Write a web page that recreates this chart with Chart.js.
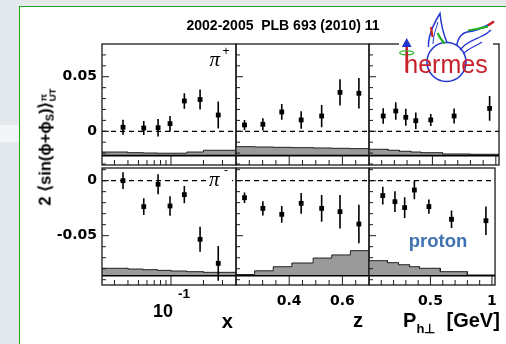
<!DOCTYPE html>
<html>
<head>
<meta charset="utf-8">
<script src="https://cdn.jsdelivr.net/npm/chart.js@4.4.1/dist/chart.umd.min.js"></script>
<style>
  html, body { margin: 0; padding: 0; }
  body { width: 506px; height: 344px; position: relative; overflow: hidden;
         background: #e4e9ee; font-family: "Liberation Sans", Arial, sans-serif; }
  #stripe { position: absolute; left: 0; top: 125px; width: 19px; height: 17px; background: #f3f5f8; }
  #box { position: absolute; left: 19px; top: 6px; width: 600px; height: 500px;
         background: #fff; border: 1.5px solid #22a022; }
  canvas { position: absolute; left: 0; top: 0; }
  .t { position: absolute; line-height: 1; white-space: pre; font-weight: bold; color: #000; }
  .pi { position: absolute; line-height: 1; font-family: "Liberation Serif", serif; font-style: italic; font-size: 21px; }
  .sup { position: absolute; line-height: 1; font-size: 12px; }
  #ytitle { font-size: 16.5px; transform: translate(-50%, -50%) rotate(-90deg); }
  #ytitle .sub { font-size: 0.65em; position: relative; top: 0.3em; }
  #ytitle .ss { display: inline-block; vertical-align: -0.55em; font-size: 0.6em; line-height: 0.95; }
  #ytitle .ss span { display: block; }
</style>
</head>
<body>
<div id="stripe"></div>
<div id="box"></div>
<canvas id="c1" width="506" height="344"></canvas>
<canvas id="c2" width="506" height="344"></canvas>
<canvas id="c3" width="506" height="344"></canvas>
<canvas id="c4" width="506" height="344"></canvas>
<canvas id="c5" width="506" height="344"></canvas>
<canvas id="c6" width="506" height="344"></canvas>

<div class="t" style="left:186.5px;top:18.2px;font-size:14px">2002-2005  PLB 693 (2010) 11</div>
<div class="t" id="ytitle" style="left:47px;top:147px">2 ⟨sin(ϕ+ϕ<span class="sub">S</span>)⟩<span class="ss"><span>π</span><span>UT</span></span></div>

<div class="pi" style="left:209.5px;top:49.2px">π</div>
<div class="sup" style="left:222.5px;top:45px">+</div>
<div class="pi" style="left:207px;top:169px;background:#fff;padding-right:12px;padding-left:2px">π</div>
<div class="sup" style="left:224px;top:163.5px">-</div>

<div class="t" style="left:408.7px;top:231.8px;font-size:18.5px;color:#3f72b0">proton</div>

<div class="t" style="left:221.7px;top:311.4px;font-size:20px">x</div>
<div class="t" style="left:353px;top:309.8px;font-size:20px">z</div>
<div class="t" style="left:403px;top:309.8px;font-size:20px">P</div>
<div class="t" style="left:416.5px;top:322px;font-size:13px">h⊥</div>
<div class="t" style="left:446.5px;top:309.8px;font-size:20px">[GeV]</div>

<svg width="506" height="344" style="position:absolute;left:0;top:0">
  <rect x="399" y="36" width="94" height="12" fill="#fff"/>
  <circle cx="446.5" cy="62" r="19.5" fill="none" stroke="#2438d0" stroke-width="1.6"/>
  <path d="M428.5,47 C428,38 431,28 440,13.5 C441,24 443,33 447,42.5" fill="none" stroke="#2438d0" stroke-width="1.5"/>
  <path d="M433,44 C433,36 436,29 438,22" fill="none" stroke="#2438d0" stroke-width="1"/>
  <path d="M431,27 L432.5,37" stroke="#d02020" stroke-width="2"/>
  <path d="M437.5,33 C440,38 442,41 445,43.5" fill="none" stroke="#22b022" stroke-width="2.2"/>
  <path d="M456.5,46 C458,38 462,33 467,32 C476,31 485,27 494,21.5" fill="none" stroke="#2438d0" stroke-width="1.5"/>
  <path d="M460,50 C466,42 474,40 480,37 C485,35 488,33 491,30" fill="none" stroke="#2438d0" stroke-width="1.3"/>
  <path d="M463,54 C469,48 476,46 482,42" fill="none" stroke="#2438d0" stroke-width="1.1"/>
  <path d="M468,30.5 C476,29 482,28 488,26.5" fill="none" stroke="#22b022" stroke-width="2"/>
  <path d="M488,25.5 L494,21.5" stroke="#d02020" stroke-width="2.2"/>
  <line x1="406.7" y1="72" x2="406.7" y2="46" stroke="#c81e28" stroke-width="2.6"/>
  <polygon points="401.8,47 411.6,47 406.7,38" fill="#1f33cc"/>
  <ellipse cx="406.7" cy="52.8" rx="7" ry="2" fill="none" stroke="#2cb52c" stroke-width="1.2"/>
  <text x="404.3" y="73" fill="#c8202a" font-size="25" font-family="Liberation Sans, Arial, sans-serif">hermes</text>
</svg>

<script>
// kinematic bin centres
const xVals  = [0.036, 0.056, 0.076, 0.098, 0.133, 0.186, 0.274];
const zVals  = [0.232, 0.301, 0.372, 0.445, 0.522, 0.591, 0.662];
const ptVals = [0.112, 0.211, 0.290, 0.369, 0.487, 0.671, 0.951];

// pi+ amplitudes and statistical errors
const piPlusX     = [0.0037, 0.0030, 0.0033, 0.0070, 0.0278, 0.0291, 0.0149];
const piPlusXErr  = [0.0069, 0.0064, 0.0080, 0.0071, 0.0071, 0.0092, 0.0124];
const piPlusZ     = [0.0058, 0.0064, 0.0177, 0.0104, 0.0140, 0.0357, 0.0348];
const piPlusZErr  = [0.0046, 0.0056, 0.0072, 0.0080, 0.0102, 0.0121, 0.0140];
const piPlusPt    = [0.0140, 0.0186, 0.0128, 0.0097, 0.0104, 0.0140, 0.0210];
const piPlusPtErr = [0.0072, 0.0081, 0.0078, 0.0076, 0.0055, 0.0069, 0.0113];

// pi- amplitudes and statistical errors
const piMinusX     = [0.0000, -0.0236, -0.0033, -0.0230, -0.0127, -0.0533, -0.0751];
const piMinusXErr  = [0.0076, 0.0076, 0.0091, 0.0088, 0.0079, 0.0114, 0.0158];
const piMinusZ     = [-0.0155, -0.0252, -0.0306, -0.0206, -0.0252, -0.0282, -0.0394];
const piMinusZErr  = [0.0047, 0.0065, 0.0076, 0.0094, 0.0121, 0.0152, 0.0174];
const piMinusPt    = [-0.0136, -0.0191, -0.0245, -0.0085, -0.0236, -0.0351, -0.0364];
const piMinusPtErr = [0.0080, 0.0094, 0.0094, 0.0085, 0.0064, 0.0079, 0.0129];

// systematic bands (bin edges, band tops, band baseline)
const xEdges  = [0.023, 0.04, 0.055, 0.075, 0.1, 0.14, 0.2, 0.4];
const zEdges  = [0.2, 0.27, 0.34, 0.41, 0.49, 0.56, 0.63, 0.7];
const ptEdges = [0, 0.15, 0.24, 0.33, 0.41, 0.58, 0.80, 1.025];
const piPlusXSys   = [-0.0190, -0.0196, -0.0199, -0.0201, -0.0201, -0.0190, -0.0174];
const piPlusZSys   = [-0.0141, -0.0144, -0.0147, -0.0150, -0.0153, -0.0156, -0.0159];
const piPlusPtSys  = [-0.0165, -0.0174, -0.0183, -0.0190, -0.0196, -0.0208, -0.0211];
const piMinusXSys  = [-0.0796, -0.0803, -0.0809, -0.0815, -0.0821, -0.0827, -0.0833];
const piMinusZSys  = [-0.0853, -0.0819, -0.0782, -0.0748, -0.0703, -0.0675, -0.0636];
const piMinusPtSys = [-0.0727, -0.0745, -0.0764, -0.0782, -0.0796, -0.0827, -0.0857];
const plusBase = -0.0223;
const minusBase = -0.0864;

// axis ranges and ticks
const yRangePlus  = [-0.0309, 0.0800];
const yRangeMinus = [-0.0948, 0.0115];
const yTicksPlus  = [0.05, 0];
const yTicksMinus = [0, -0.05];
const yMinorPlus  = [-0.03, -0.02, -0.01, 0.01, 0.02, 0.03, 0.04, 0.06, 0.07];
const yMinorMinus = [-0.09, -0.08, -0.07, -0.06, -0.04, -0.03, -0.02, -0.01, 0.01];
const xTicks  = [0.1];
const xMinor  = [0.03, 0.04, 0.05, 0.06, 0.07, 0.08, 0.09, 0.2, 0.3];
const zTicks  = [0.4, 0.6];
const zMinor  = [0.25, 0.3, 0.35, 0.45, 0.5, 0.55, 0.65];
const ptTicks = [0.5, 1];
const ptMinor = [0.1, 0.2, 0.3, 0.4, 0.6, 0.7, 0.8, 0.9];

const W = 506, H = 344;
const cols = [[102, 236], [236, 369], [369, 499]];
const rows = [[44, 165], [168, 285]];

const framePlugin = {
  id: 'frame',
  afterDatasetsDraw(chart, args, o) {
    const { ctx, chartArea: a, scales: { x, y } } = chart;
    ctx.save();
    ctx.strokeStyle = '#1a1a1a';
    ctx.lineWidth = 1;
    ctx.beginPath();
    o.yMinor.forEach(v => { const p = y.getPixelForValue(v); ctx.moveTo(a.left, p); ctx.lineTo(a.left + 4, p); });
    o.yMajor.forEach(v => { const p = y.getPixelForValue(v); ctx.moveTo(a.left, p); ctx.lineTo(a.left + 7, p); });
    o.xMinor.forEach(v => { const p = x.getPixelForValue(v); ctx.moveTo(p, a.bottom); ctx.lineTo(p, a.bottom - 5); });
    o.xMajor.forEach(v => { const p = x.getPixelForValue(v); ctx.moveTo(p, a.bottom); ctx.lineTo(p, a.bottom - 9); });
    ctx.stroke();
    ctx.lineWidth = 1.3;
    ctx.strokeRect(a.left, a.top, a.right - a.left, a.bottom - a.top);
    ctx.restore();
  }
};

const errorPlugin = {
  id: 'errors',
  afterDatasetsDraw(chart) {
    const { ctx, scales: { y } } = chart;
    const ds = chart.data.datasets[0];
    const meta = chart.getDatasetMeta(0);
    ctx.save();
    ctx.strokeStyle = '#000';
    ctx.lineWidth = 1.6;
    ctx.beginPath();
    meta.data.forEach((el, i) => {
      const v = ds.data[i].y, e = ds.errors[i];
      ctx.moveTo(el.x, y.getPixelForValue(v + e));
      ctx.lineTo(el.x, y.getPixelForValue(v - e));
    });
    ctx.stroke();
    ctx.restore();
  }
};

// "10^-1" label of the log axis
const powerLabel = {
  id: 'power',
  afterDraw(chart, args, o) {
    if (!o.show) return;
    const { ctx, chartArea: a } = chart;
    const px = chart.scales.x.getPixelForValue(o.value);
    ctx.save();
    ctx.fillStyle = '#000';
    ctx.textBaseline = 'alphabetic';
    ctx.font = 'bold 18px "Liberation Sans", Arial';
    ctx.textAlign = 'right';
    ctx.fillText(o.base, px + 2, a.bottom + 31.7);
    ctx.font = 'bold 13.5px "Liberation Sans", Arial';
    ctx.textAlign = 'left';
    ctx.fillText(o.exp, px + 7, a.bottom + 13);
    ctx.restore();
  }
};

function makePanel(id, col, row, p) {
  const [x0, x1] = cols[col];
  const [y0, y1] = rows[row];
  const showY = col === 0;
  const showX = row === 1 && p.xLabels;
  const yW = 45, xH = 30;
  const tickFont = { family: 'DejaVu Sans', weight: 'bold', size: 14, lineHeight: 1 };

  const points = p.xs.map((x, i) => ({ x, y: p.ys[i] }));
  const band = p.edges.slice(0, -1).flatMap((e, i) => [
    { x: e, y: p.sys[i] }, { x: p.edges[i + 1], y: p.sys[i] }
  ]);
  const xMin = p.edges[0], xMax = p.edges[p.edges.length - 1];

  new Chart(document.getElementById(id), {
    type: 'scatter',
    data: {
      datasets: [
        { data: points, errors: p.errs, pointStyle: 'rect', pointRadius: 3.4,
          backgroundColor: '#000', borderWidth: 0 },
        { data: [{ x: xMin, y: 0 }, { x: xMax, y: 0 }], showLine: true, pointRadius: 0,
          borderColor: '#000', borderWidth: 1.3, borderDash: [5, 4] },
        { data: [{ x: xMin, y: p.base }, { x: xMax, y: p.base }], showLine: true, pointRadius: 0,
          borderColor: '#000', borderWidth: 1.6 },
        { data: band, showLine: true, pointRadius: 0, borderColor: '#222', borderWidth: 1,
          backgroundColor: '#9a9a9a', fill: { value: p.base } }
      ]
    },
    options: {
      responsive: false,
      animation: false,
      layout: { padding: {
        left: showY ? x0 - yW : x0,
        right: W - x1,
        top: y0,
        bottom: showX ? H - y1 - xH : H - y1
      } },
      plugins: {
        legend: { display: false },
        tooltip: { enabled: false },
        frame: { xMajor: p.xTicks, xMinor: p.xMinor, yMajor: p.yTicks, yMinor: p.yMinor },
        power: { show: row === 1 && !p.xLabels && p.xType === 'logarithmic', value: 0.1, base: '10', exp: '-1' }
      },
      scales: {
        x: {
          type: p.xType, min: xMin, max: xMax, display: showX,
          grid: { display: false, drawTicks: false }, border: { display: false },
          afterBuildTicks: s => { s.ticks = p.xTicks.map(v => ({ value: v })); },
          afterFit: s => { s.height = showX ? xH : 0; },
          ticks: { font: tickFont, color: '#000', padding: 9, maxRotation: 0, autoSkip: false,
                   callback: v => String(v) }
        },
        y: {
          type: 'linear', min: p.yRange[0], max: p.yRange[1], display: showY,
          grid: { display: false, drawTicks: false }, border: { display: false },
          afterBuildTicks: s => { s.ticks = p.yTicks.map(v => ({ value: v })); },
          afterFit: s => { s.width = showY ? yW : 0; },
          ticks: { font: tickFont, color: '#000', padding: 5, autoSkip: false,
                   callback: v => String(v) }
        }
      }
    },
    plugins: [framePlugin, errorPlugin, powerLabel]
  });
}

const plusY  = { yRange: yRangePlus,  yTicks: yTicksPlus,  yMinor: yMinorPlus,  base: plusBase };
const minusY = { yRange: yRangeMinus, yTicks: yTicksMinus, yMinor: yMinorMinus, base: minusBase };
const xAx  = { xType: 'logarithmic', xTicks: xTicks, xMinor: xMinor, edges: xEdges, xs: xVals, xLabels: false };
const zAx  = { xType: 'linear', xTicks: zTicks, xMinor: zMinor, edges: zEdges, xs: zVals, xLabels: true };
const ptAx = { xType: 'linear', xTicks: ptTicks, xMinor: ptMinor, edges: ptEdges, xs: ptVals, xLabels: true };

makePanel('c1', 0, 0, { ...xAx,  ...plusY,  ys: piPlusX,   errs: piPlusXErr,   sys: piPlusXSys });
makePanel('c2', 1, 0, { ...zAx,  ...plusY,  ys: piPlusZ,   errs: piPlusZErr,   sys: piPlusZSys });
makePanel('c3', 2, 0, { ...ptAx, ...plusY,  ys: piPlusPt,  errs: piPlusPtErr,  sys: piPlusPtSys });
makePanel('c4', 0, 1, { ...xAx,  ...minusY, ys: piMinusX,  errs: piMinusXErr,  sys: piMinusXSys });
makePanel('c5', 1, 1, { ...zAx,  ...minusY, ys: piMinusZ,  errs: piMinusZErr,  sys: piMinusZSys });
makePanel('c6', 2, 1, { ...ptAx, ...minusY, ys: piMinusPt, errs: piMinusPtErr, sys: piMinusPtSys });
</script>
</body>
</html>
